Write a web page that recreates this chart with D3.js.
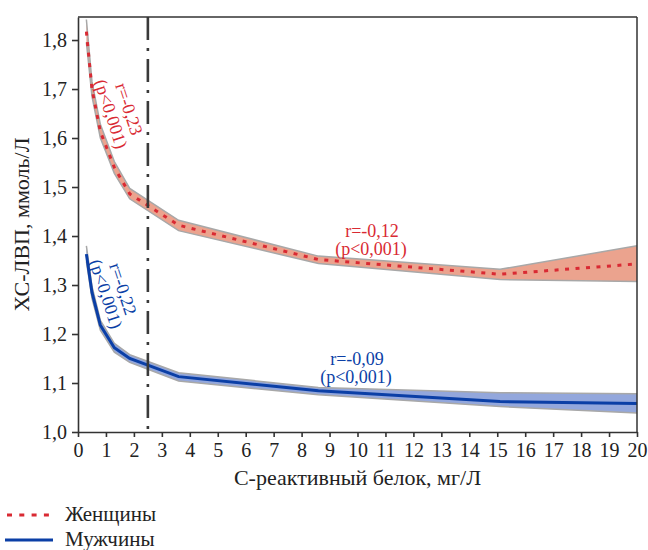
<!DOCTYPE html>
<html><head><meta charset="utf-8">
<script src="https://cdn.jsdelivr.net/npm/d3@7"></script>
<style>
html,body{margin:0;padding:0;background:#fff;}
svg{display:block;}
svg text{font-family:"Liberation Serif","DejaVu Serif","Times New Roman",serif !important;}
</style></head>
<body><svg id="c" width="648" height="550"></svg>
<script>
// CRP knots (mg/L)
const crp = [0.3, 0.5, 0.8, 1.3, 1.85, 3.6, 8.6, 15.1, 20];
// Women (HDL-C, mmol/L)
const womenMean  = [1.817, 1.700, 1.613, 1.540, 1.486, 1.422, 1.352, 1.322, 1.343];
const womenUpper = [1.842, 1.715, 1.628, 1.552, 1.497, 1.432, 1.359, 1.332, 1.380];
const womenLower = [1.795, 1.685, 1.600, 1.528, 1.476, 1.411, 1.344, 1.311, 1.307];
// Men
const menMean  = [1.363, 1.285, 1.218, 1.172, 1.150, 1.113, 1.084, 1.062, 1.058];
const menUpper = [1.380, 1.297, 1.228, 1.181, 1.158, 1.121, 1.091, 1.080, 1.078];
const menLower = [1.348, 1.273, 1.208, 1.163, 1.142, 1.104, 1.076, 1.052, 1.039];

const xTicks = d3.range(0, 21, 1);
const yTicks = [1.0, 1.1, 1.2, 1.3, 1.4, 1.5, 1.6, 1.7, 1.8];
const cutoff = 2.5;
const xTitle = "С-реактивный белок, мг/Л";
const yTitle = "ХС-ЛВП, ммоль/Л";
const legendLabels = ["Женщины", "Мужчины"];

const svg = d3.select("#c");
const x = d3.scaleLinear().domain([0, 20]).range([78, 637]);
const y = d3.scaleLinear().domain([1.0, 1.847]).range([432, 17]);

const red = "#d92a33", blue = "#0b3fa6";
const redFill = "#eba38e", blueFill = "#93a7dc";

function series(mean, up, lo) {
  return crp.map((c, i) => ({x: c, m: mean[i], u: up[i], l: lo[i]}));
}
const women = series(womenMean, womenUpper, womenLower);
const men = series(menMean, menUpper, menLower);

const area = d3.area().x(d => x(d.x)).y0(d => y(d.l)).y1(d => y(d.u));
const lineU = d3.line().x(d => x(d.x)).y(d => y(d.u));
const lineL = d3.line().x(d => x(d.x)).y(d => y(d.l));
const lineM = d3.line().x(d => x(d.x)).y(d => y(d.m));

function drawBand(data, fill) {
  svg.append("path").attr("d", area(data)).attr("fill", fill);
  svg.append("path").attr("d", lineU(data)).attr("fill", "none").attr("stroke", "#a8a8a8").attr("stroke-width", 1.5);
  svg.append("path").attr("d", lineL(data)).attr("fill", "none").attr("stroke", "#a8a8a8").attr("stroke-width", 1.5);
}
drawBand(women, redFill);
drawBand(men, blueFill);

svg.append("path").attr("d", lineM(men)).attr("fill", "none").attr("stroke", blue).attr("stroke-width", 3);
svg.append("path").attr("d", lineM(women)).attr("fill", "none").attr("stroke", red)
  .attr("stroke-width", 3).attr("stroke-dasharray", "4,6.5");

// cutoff line
svg.append("line").attr("x1", x(cutoff)).attr("x2", x(cutoff)).attr("y1", y(1.847)).attr("y2", y(1.0))
  .attr("stroke", "#3a3a3a").attr("stroke-width", 2.6).attr("stroke-dasharray", "23,8,3,8");

// frame
svg.append("line").attr("x1", x(0)).attr("x2", x(20)).attr("y1", y(1.847)).attr("y2", y(1.847)).attr("stroke", "#333").attr("stroke-width", 1.5);
svg.append("line").attr("x1", x(20)).attr("x2", x(20)).attr("y1", y(1.847)).attr("y2", y(1.0)).attr("stroke", "#333").attr("stroke-width", 1.5);

const fmt = v => d3.format(".1f")(v).replace(".", ",");
const gx = svg.append("g").attr("transform", `translate(0,${y(1.0)})`)
  .call(d3.axisBottom(x).tickValues(xTicks).tickSize(5).tickSizeOuter(0).tickPadding(6));
const gy = svg.append("g").attr("transform", `translate(${x(0)},0)`)
  .call(d3.axisLeft(y).tickValues(yTicks).tickFormat(fmt).tickSize(6).tickSizeOuter(0).tickPadding(5));
[gx, gy].forEach(g => {
  g.attr("font-family", null);
  g.select(".domain").attr("stroke", "#333").attr("stroke-width", 1.6);
  g.selectAll(".tick line").attr("stroke", "#333").attr("stroke-width", 1.6);
  g.selectAll(".tick text").attr("fill", "#222").attr("font-size", 20);
});

svg.append("text").attr("x", (x(0) + x(20)) / 2).attr("y", 485).attr("text-anchor", "middle")
  .attr("font-size", 22).attr("fill", "#222").text(xTitle);
svg.append("text").attr("transform", `translate(29,${(y(1.847) + y(1.0)) / 2}) rotate(-90)`)
  .attr("text-anchor", "middle").attr("font-size", 22).attr("fill", "#222").text(yTitle);

// annotations
function ann(lines, cx, cy, rot, color, dx, dy) {
  lines.forEach((t, i) => {
    svg.append("text")
      .attr("transform", `translate(${cx + i * dx},${cy + i * dy}) rotate(${rot})`)
      .attr("text-anchor", "middle").attr("dominant-baseline", "central")
      .attr("font-size", 18).attr("fill", color).text(t);
  });
}
ann(["r=-0,23", "(p<0,001)"], 129, 109, 72, red, -18, 5);
ann(["r=-0,22", "(p<0,001)"], 123, 289, 72, blue, -17, 5);
ann(["r=-0,12", "(p<0,001)"], 372, 231, 0, red, -1, 18);
ann(["r=-0,09", "(p<0,001)"], 357, 359, 0, blue, -1, 18);

// legend
svg.append("line").attr("x1", 7).attr("x2", 52).attr("y1", 515).attr("y2", 515)
  .attr("stroke", red).attr("stroke-width", 3).attr("stroke-dasharray", "5,7.3");
svg.append("line").attr("x1", 5).attr("x2", 53).attr("y1", 540).attr("y2", 540)
  .attr("stroke", blue).attr("stroke-width", 3);
svg.append("text").attr("x", 65).attr("y", 521).attr("font-size", 21).attr("fill", "#222").text(legendLabels[0]);
svg.append("text").attr("x", 65).attr("y", 546).attr("font-size", 21).attr("fill", "#222").text(legendLabels[1]);
</script></body></html>
